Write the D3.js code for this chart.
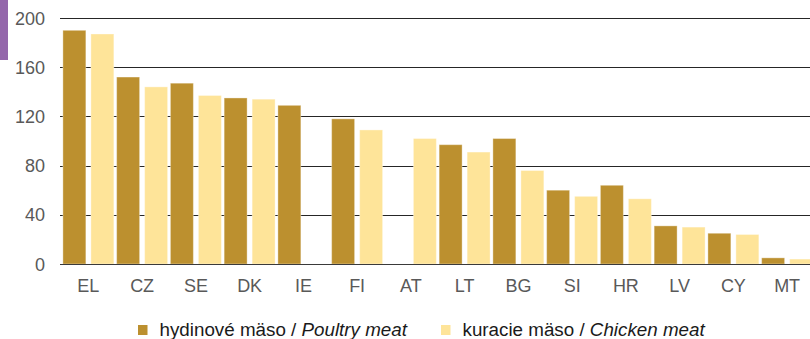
<!DOCTYPE html>
<html>
<head>
<meta charset="utf-8">
<script src="https://cdn.jsdelivr.net/npm/d3@7"></script>
<style>
  html, body { margin: 0; padding: 0; background: #fff; }
  svg { display: block; font-family: "Liberation Sans", Arial, sans-serif; }
</style>
</head>
<body>
<svg id="chart" width="810" height="339"></svg>
<script>
// Countries, in descending order of poultry meat
const countries = ["EL", "CZ", "SE", "DK", "IE", "FI", "AT", "LT", "BG", "SI", "HR", "LV", "CY", "MT"];
// hydinové mäso / Poultry meat (null = no data)
const poultry = [190, 152, 147, 135, 129, 118, null, 97, 102, 60, 64, 31, 25, 5];
// kuracie mäso / Chicken meat (null = no data)
const chicken = [187, 144, 137, 134, null, 109, 102, 91, 76, 55, 53, 30, 24, 4];
const yTicks = [0, 40, 80, 120, 160, 200];
const seriesNames = ["hydinové mäso / ", "kuracie mäso / "];
const seriesNamesEn = ["Poultry meat", "Chicken meat"];
const colors = ["#bc902f", "#fee499"];

const svg = d3.select("#chart");

// accent strip at the top-left corner
svg.append("rect").attr("x", 0).attr("y", 0).attr("width", 8).attr("height", 60)
  .attr("fill", "#9467ab");

const x0 = d3.scaleBand().domain(countries).range([61.5, 814]).paddingInner(0).paddingOuter(0);
const x1 = d3.scaleBand().domain([0, 1]).range([0, x0.bandwidth()]).paddingInner(0.18).paddingOuter(0.05);
const y = d3.scaleLinear().domain([0, 200]).range([264, 18]);

// horizontal gridlines
svg.append("g").selectAll("line").data(yTicks.filter(d => d > 0)).join("line")
  .attr("x1", 60).attr("x2", 810)
  .attr("y1", d => Math.round(y(d)) + 0.5).attr("y2", d => Math.round(y(d)) + 0.5)
  .attr("stroke", "#262626").attr("stroke-width", 1.2);

// y tick labels
svg.append("g").selectAll("text").data(yTicks).join("text")
  .attr("x", 45).attr("y", d => y(d) + 6.5)
  .attr("text-anchor", "end").attr("font-size", 18).attr("fill", "#595959")
  .text(d => d);

// bars
const rows = countries.map((c, i) => ({ c, vals: [poultry[i], chicken[i]] }));
const groups = svg.append("g").selectAll("g").data(rows).join("g")
  .attr("transform", d => `translate(${x0(d.c)},0)`);
groups.selectAll("rect")
  .data(d => d.vals.map((v, k) => ({ v, k })).filter(e => e.v != null))
  .join("rect")
  .attr("x", e => x1(e.k))
  .attr("width", x1.bandwidth())
  .attr("y", e => y(e.v))
  .attr("height", e => y(0) - y(e.v))
  .attr("fill", e => colors[e.k])
  .attr("stroke", "rgba(255,255,255,0.35)").attr("stroke-width", 1);

// baseline
svg.append("line").attr("x1", 60).attr("x2", 810)
  .attr("y1", Math.round(y(0)) + 0.5).attr("y2", Math.round(y(0)) + 0.5)
  .attr("stroke", "#3a3a3a").attr("stroke-width", 1.2);

// x axis labels
const xAxis = d3.axisBottom(x0).tickSize(0).tickPadding(0);
const gx = svg.append("g").call(xAxis);
gx.select(".domain").remove();
gx.selectAll("text")
  .attr("y", 292).attr("dy", 0)
  .attr("font-size", 18).attr("fill", "#595959")
  .attr("font-family", "'Liberation Sans', Arial, sans-serif");

// legend
const legendX = [138, 441];
const legend = svg.append("g").selectAll("g").data([0, 1]).join("g")
  .attr("transform", k => `translate(${legendX[k]},0)`);
legend.append("rect").attr("x", 0).attr("y", 325).attr("width", 9.5).attr("height", 10)
  .attr("fill", k => colors[k]);
const lt = legend.append("text").attr("x", 21.5).attr("y", 336)
  .attr("font-size", 18.8).attr("fill", "#1a1a1a");
lt.append("tspan").text(k => seriesNames[k]);
lt.append("tspan").attr("font-style", "italic").text(k => seriesNamesEn[k]);
</script>
</body>
</html>
